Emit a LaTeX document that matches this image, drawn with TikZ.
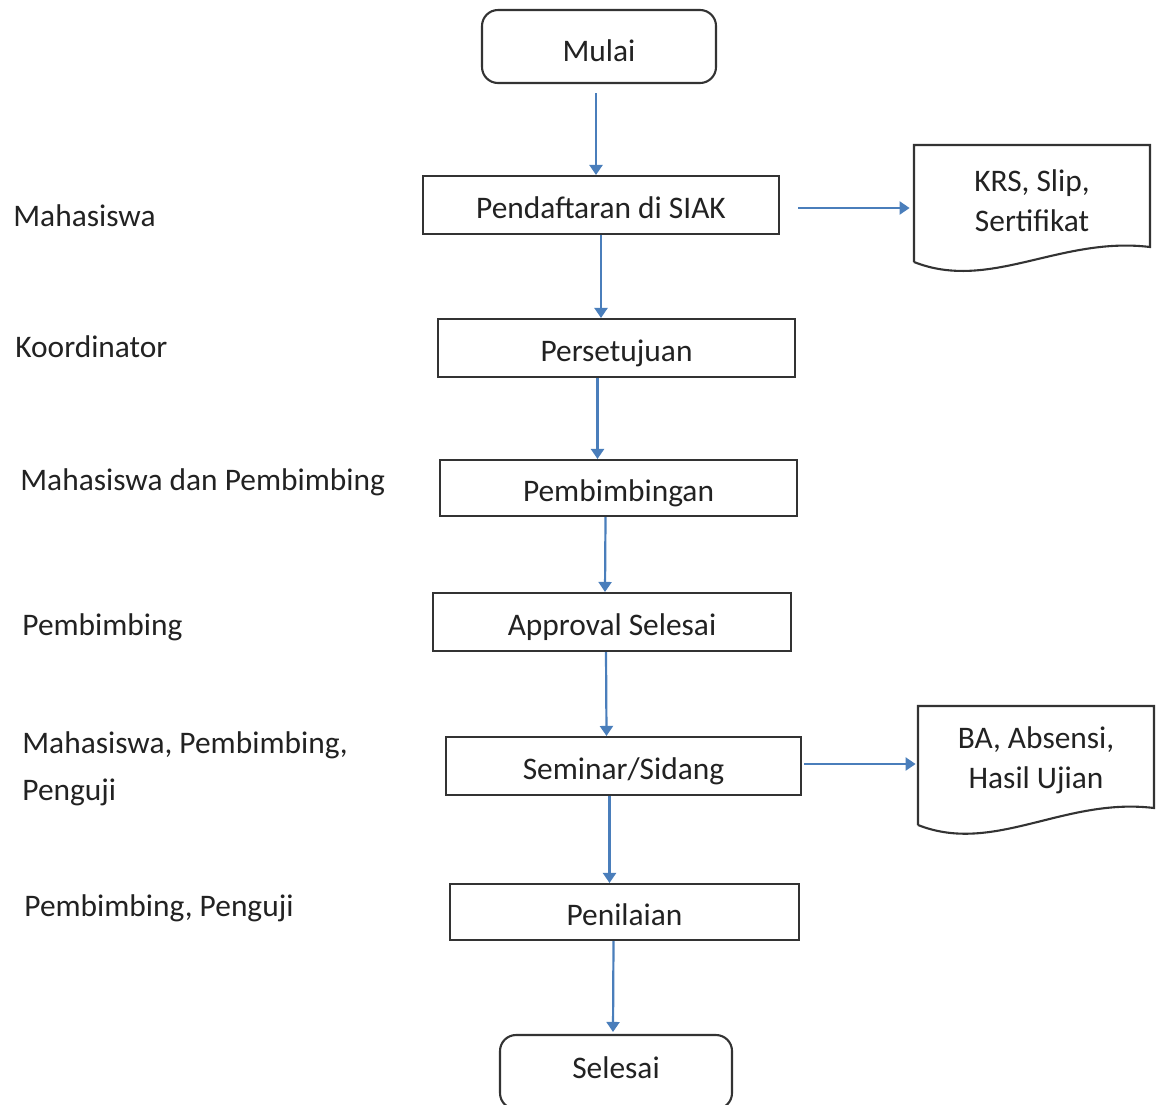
\documentclass[tikz,border=0pt]{standalone}
\usepackage{fontspec}
\setmainfont{Carlito}
\usetikzlibrary{calc,arrows.meta}
\definecolor{arrblue}{HTML}{4A7EBB}
\definecolor{boxgray}{HTML}{333333}
\definecolor{txtgray}{HTML}{222222}
\begin{document}
\begin{tikzpicture}[x=0.5pt,y=-0.5pt,
  font=\fontsize{15.7}{20}\selectfont,
  every node/.style={text=txtgray},
  proc/.style={draw=boxgray, line width=1.05pt, fill=white, inner sep=0pt, text height=13.5pt, text depth=0pt},
  term/.style={proc, rounded corners=8pt, text height=15pt},
  doc/.style={draw=boxgray, line width=1.05pt},
  lab/.style={anchor=west, inner sep=0pt},
  arr/.style={draw=arrblue, line width=1.1pt, -{Triangle[width=6.5pt,length=5pt]}}]
\useasboundingbox (0,0) rectangle (1159,1104);
\clip (0,0) rectangle (1159,1104);
% process nodes
\node[term, minimum width=117pt, minimum height=36.5pt] (mulai) at (599,46.5) {Mulai};
\node[proc, minimum width=178pt, minimum height=29pt] (pend) at (601,205) {Pendaftaran di SIAK};
\node[proc, minimum width=178.5pt, minimum height=29pt] (setuju) at (616.5,348) {Persetujuan};
\node[proc, minimum width=178.5pt, minimum height=28pt] (bimb) at (618.5,488) {Pembimbingan};
\node[proc, minimum width=179pt, minimum height=29pt] (appr) at (612,622) {Approval Selesai};
\node[proc, minimum width=177.5pt, minimum height=29pt] (sem) at (623.5,766) {Seminar/Sidang};
\node[proc, minimum width=174.5pt, minimum height=28pt] (nilai) at (624.5,912) {Penilaian};
\node[term, minimum width=116pt, minimum height=37pt, text height=6.5pt] (selesai) at (616,1072) {Selesai};
% documents
\draw[doc] (914,262) -- (914,145) -- (1150,145) -- (1150,247)
  .. controls (1060,236) and (990,292) .. (914,262);
\node[align=center, inner sep=0pt, minimum width=118pt] (krs) at (1032,201) {KRS, Slip,\\Sertifikat};
\draw[doc] (918,825) -- (918,706) -- (1154,706) -- (1154,808)
  .. controls (1064,797) and (994,855) .. (918,825);
\node[align=center, inner sep=0pt, minimum width=118pt] (ba) at (1036,760) {BA, Absensi,\\Hasil Ujian};
% role labels
\node[lab] (l1) at (13,216) {Mahasiswa};
\node[lab] (l2) at (15,347) {Koordinator};
\node[lab] (l3) at (20,482) {Mahasiswa dan Pembimbing};
\node[lab] (l4) at (22,627) {Pembimbing};
\node[lab, align=left] (l5) at (22,769) {Mahasiswa, Pembimbing,\\[3.5pt]Penguji};
\node[lab] (l6) at (24,908) {Pembimbing, Penguji};
% connectors
\draw[arr] ($(mulai.south)+(-3,9)$) -- ($(pend.north)+(-5,0)$);
\draw[arr] (pend.south) -- (setuju.north -| pend.south);
\draw[arr] ($(pend.east)+(18,3)$) -- ($(krs.west |- pend.east)+(-4,3)$);
\draw[arr] ($(setuju.south)+(-19,0)$) -- ($(bimb.north)+(-21,0)$);
\draw[arr] ($(bimb.south)+(-13,0)$) -- ($(appr.north)+(-7,0)$);
\draw[arr] ($(appr.south)+(-6,0)$) -- ($(sem.north)+(-17,0)$);
\draw[arr] ($(sem.east)+(2,-2)$) -- ($(ba.west |- sem.east)+(-2,-2)$);
\draw[arr] ($(sem.south)+(-14,0)$) -- ($(nilai.north)+(-15,0)$);
\draw[arr] ($(nilai.south)+(-11,0)$) -- ($(selesai.north)+(-3,-2)$);
\end{tikzpicture}
\end{document}
